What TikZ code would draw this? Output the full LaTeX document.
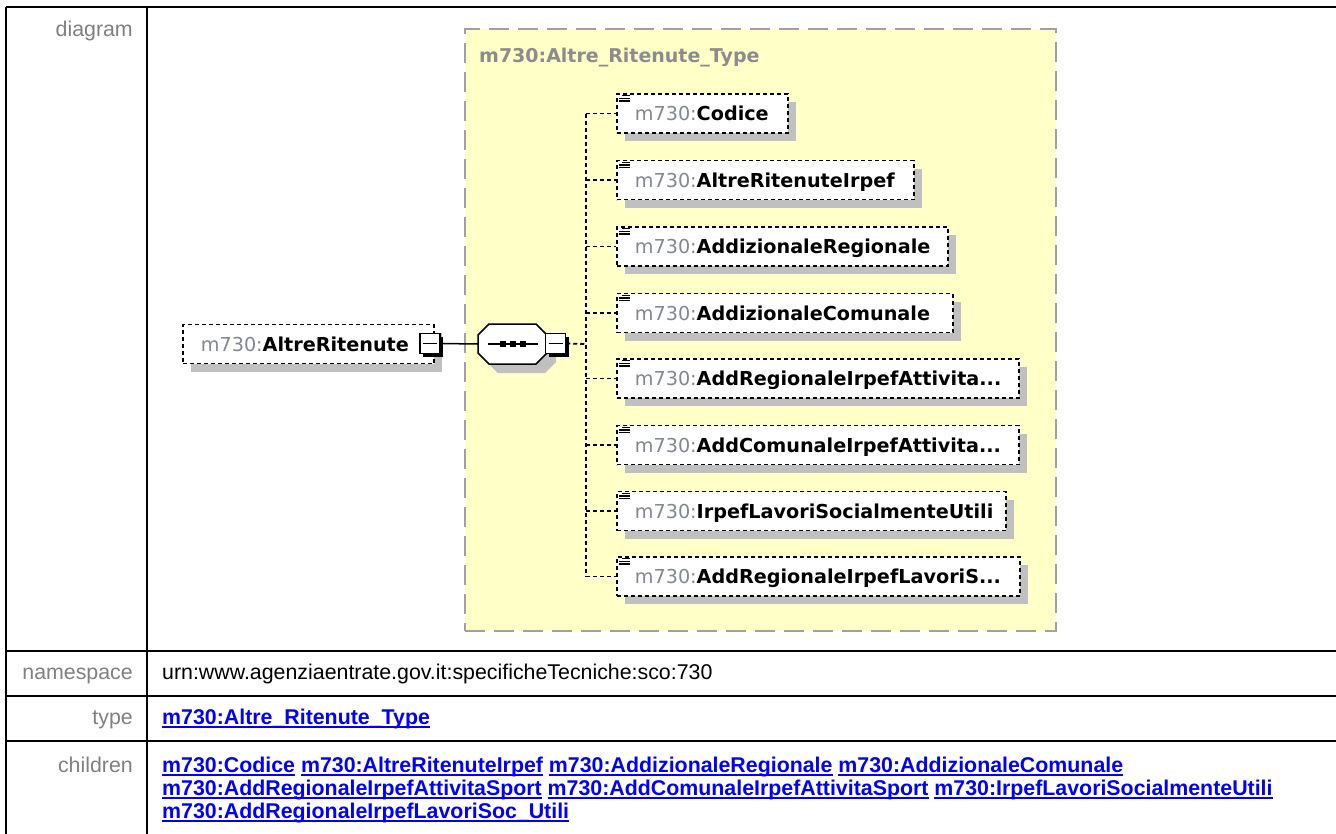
\documentclass[tikz,border=0pt]{standalone}
\usepackage{fontspec}
\setmainfont{Liberation Sans}
\newfontfamily\dfont{DejaVu Sans}
\usetikzlibrary{shadows}
\definecolor{yel}{RGB}{255,255,200}
\definecolor{ygray}{RGB}{160,160,160}
\definecolor{lblgray}{RGB}{128,128,128}
\definecolor{pfx}{RGB}{130,135,145}
\definecolor{ttlgray}{RGB}{140,140,140}
\definecolor{lnkblue}{RGB}{0,0,255}
\definecolor{shad}{RGB}{192,192,192}
\newcommand\lnk[1]{\setbox0\hbox{#1}\rlap{\rule[-3.6pt]{\wd0}{1.8pt}}\box0\relax}
\newcommand\threedots{.\kern0pt.\kern0pt.}
\newcommand\octpath{++(-34.5,-9) -- ++(11,-11) -- ++(47,0) -- ++(11,11) -- ++(0,18) -- ++(-11,11) -- ++(-47,0) -- ++(-11,-11) -- cycle}
\begin{document}
\begin{tikzpicture}[x=1pt,y=-1pt,
  tline/.style={line width=2.5pt, black},
  lbl/.style={anchor=base east, text=lblgray, font=\fontsize{21.35}{23}\selectfont, inner sep=0pt},
  val/.style={anchor=base west, font=\fontsize{21.35}{23}\selectfont, inner sep=0pt},
  lnktxt/.style={anchor=base west, inner sep=0pt, text=lnkblue, font=\bfseries\fontsize{21.35}{23}\selectfont},
  elem/.style={draw, dash pattern=on 4pt off 3pt, line width=1.8pt, fill=white, inner ysep=0pt, inner xsep=18pt, minimum height=39pt, text height=16pt, text depth=2pt, align=left, general shadow={fill=shad, shadow xshift=8pt, shadow yshift=-8pt}, font=\dfont\fontsize{19.2}{22}\selectfont},
  btn/.style={draw, line width=1.5pt, fill=white, minimum size=20pt, inner sep=0pt, general shadow={fill=black, shadow xshift=3pt, shadow yshift=-3pt}},
  conn/.style={line width=1.5pt},
  dconn/.style={line width=1.8pt, dash pattern=on 4pt off 3pt},
  icon/.style={line width=1.3pt}
]
\path[use as bounding box] (0,0) rectangle (1336,833);
\clip (0,0) rectangle (1336,833);
\fill[white] (0,0) rectangle (1336,833);

% table
\draw[tline] (6,7) -- (1345,7);
\draw[tline] (6,7) -- (6,845);
\draw[tline] (147,7) -- (147,845);
\draw[tline] (6,651) -- (1345,651);
\draw[tline] (6,696) -- (1345,696);
\draw[tline] (6,741) -- (1345,741);

\node[lbl] (l1) at (133,36) {diagram};
\node[lbl] (l2) at (133,679) {namespace};
\node[lbl] (l3) at (133,724) {type};
\node[lbl] (l4) at (133,772) {children};

\node[val] (v2) at (162,679) {urn:www.agenziaentrate.gov.it:specificheTecniche:sco:730};
\node[lnktxt] (v3) at (162,724) {\lnk{m730:Altre\_Ritenute\_Type}};
\node[lnktxt] (ch1) at (162,772) {\lnk{m730:Codice} \lnk{m730:AltreRitenuteIrpef} \lnk{m730:AddizionaleRegionale} \lnk{m730:AddizionaleComunale}};
\node[lnktxt] (ch2) at (162,795) {\lnk{m730:AddRegionaleIrpefAttivitaSport} \lnk{m730:AddComunaleIrpefAttivitaSport} \lnk{m730:IrpefLavoriSocialmenteUtili}};
\node[lnktxt] (ch3) at (162,818) {\lnk{m730:AddRegionaleIrpefLavoriSoc\_Utili}};

% type box
\node[draw=ygray, fill=yel, dash pattern=on 20pt off 9pt, line width=2pt, minimum width=591pt, minimum height=602pt, anchor=north west, inner sep=0pt] (tbox) at (464,28) {};
\node[anchor=base west, inner sep=0pt, text=ttlgray, font=\dfont\bfseries\fontsize{19}{22}\selectfont] (ttl) at (479,62) {m730:Altre\_Ritenute\_Type};

% main element
\node[elem, minimum width=251pt, text width=215pt, anchor=west] (ar) at (182,344) {{\color{pfx}m730:}\textbf{AltreRitenute}};
\node[btn] (arb) at (430,343.5) {};
\draw[conn] (arb.center) ++(-7,0) -- ++(14,0);

% sequence compositor
\node[minimum width=69pt, minimum height=40pt, inner sep=0pt] (seq) at (512.5,344) {};
\fill[shad] (seq.center) ++(9,9) \octpath;
\draw[line width=1.5pt, fill=white] (seq.center) \octpath;
\draw[conn] (seq.center) ++(-25,0) -- ++(50,0);
\fill (seq.center) ++(-13,-3) rectangle ++(6,6);
\fill (seq.center) ++(-3,-3) rectangle ++(6,6);
\fill (seq.center) ++(7,-3) rectangle ++(6,6);
\node[btn] (seqb) at (555.5,343.5) {};
\draw[conn] (seqb.center) ++(-7,0) -- ++(14,0);

\draw[conn] (arb.east) -- (seq.west);
\coordinate (spine) at (586,344);
\draw[dconn] (seqb.east) -- (spine);

% children
\foreach \i/\yy/\w/\t in {1/113.5/171/Codice, 2/180/297/AltreRitenuteIrpef, 3/246.5/331/AddizionaleRegionale, 4/313/336/AddizionaleComunale, 5/378.5/402/AddRegionaleIrpefAttivita\threedots, 6/445/402/AddComunaleIrpefAttivita\threedots, 7/511/389/IrpefLavoriSocialmenteUtili, 8/576.5/403/AddRegionaleIrpefLavoriS\threedots}{
  \pgfmathsetmacro\tw{\w-36}
  \node[elem, minimum width=\w pt, text width=\tw pt, anchor=west] (c\i) at (616,\yy) {{\color{pfx}m730:}\textbf{\t}};
  \draw[icon] (c\i.north west) ++(6,2.7) -- ++(8,0);
  \draw[icon] (c\i.north west) ++(3,5.3) -- ++(11,0);
  \draw[icon] (c\i.north west) ++(3,8) -- ++(11,0);
  \draw[dconn] (spine |- c\i.west) -- (c\i.west);
}
\draw[dconn] (spine |- c1.west) -- (spine |- c8.west);
\end{tikzpicture}
\end{document}
